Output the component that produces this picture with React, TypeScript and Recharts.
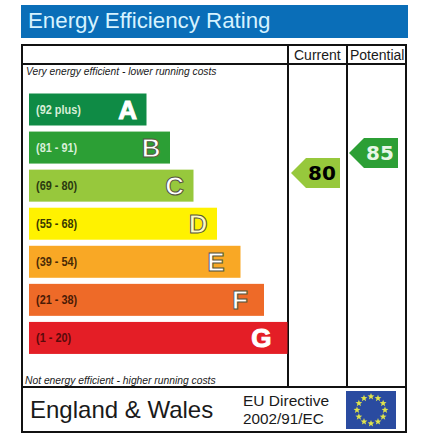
import { Bar, ComposedChart, LabelList, Scatter, XAxis, YAxis } from 'recharts'

const BANDS = ['A', 'B', 'C', 'D', 'E', 'F', 'G']
const RANGES = ['(92 plus)', '(81 - 91)', '(69 - 80)', '(55 - 68)', '(39 - 54)', '(21 - 38)', '(1 - 20)']
const LENGTHS = [5, 6, 7, 8, 9, 10, 11]
const COLORS = ['#0f8b45', '#2c9f35', '#97c83c', '#fff200', '#f9a825', '#ee6a28', '#e41e26']
const RANGE_COLORS = ['#d8efd8', '#d8efd8', '#2a3a10', '#3a3a00', '#4a2a05', '#4a1a05', '#5a0a0a']

const COLUMNS = ['Current', 'Potential']
const SCORES = [80, 85]
const SCORE_BANDS = [2, 1]
const SCORE_TEXT = ['#000000', '#e6f6e6']

const FONT = '"Liberation Sans", Arial, sans-serif'

const bars = BANDS.map((band, i) => ({ band, range: RANGES[i], length: LENGTHS[i], color: COLORS[i] }))
const tags = COLUMNS.map((column, i) => ({ column, score: SCORES[i], color: COLORS[SCORE_BANDS[i]], text: SCORE_TEXT[i] }))

const BandBar = (props: any) => <rect x={props.x} y={props.y} width={props.width} height={props.height} fill={props.payload.color} />

// no narrow font installed, so squeeze the bold one
const RangeLabel = (props: any) => (
  <text transform={`translate(${props.x + 7} ${props.y + props.height / 2 + 4}) scale(0.84 1)`} fontFamily={FONT}
    fontSize={13} fontWeight={700} fill={RANGE_COLORS[props.index]}>
    {props.value}
  </text>
)

const LetterLabel = (props: any) => (
  <text x={props.x + props.width - (props.index > 3 ? 16 : 9.5)} y={props.y + props.height / 2 + 9} textAnchor="end"
    fontFamily={FONT} fontSize={26} fontWeight={700} fill={props.index === 3 ? '#fffbc0' : '#ffffff'}
    stroke={props.index === 0 || props.index === 6 ? '#ffffff' : '#55553f'} strokeWidth={1}>
    {props.value}
  </text>
)

const ScoreTag = (props: any) => {
  const { cx, cy, payload } = props
  return (
    <g>
      <path d={`M${cx} ${cy}L${cx + 15} ${cy - 15}H${cx + 49}V${cy + 15}H${cx + 15}Z`} fill={payload.color} />
      <text x={cx + 31} y={cy + 7.5} textAnchor="middle" fontFamily='"DejaVu Sans", sans-serif' fontSize={20} fontWeight={700} fill={payload.text}>
        {payload.score}
      </text>
    </g>
  )
}

const line = (left: number, top: number, width: number, height: number) => (
  <div style={{ position: 'absolute', left, top, width, height, background: '#111' }} />
)

const label = (text: string, left: number, top: number, fontSize: number, extra: object = {}) => (
  <div style={{ position: 'absolute', left, top, fontSize, lineHeight: 1, whiteSpace: 'nowrap', fontFamily: FONT, color: '#1a1a1a', ...extra }}>{text}</div>
)

const starPoints = (cx: number, cy: number, r: number) =>
  Array.from({ length: 10 }).map((_, i) => {
    const a = (i * Math.PI) / 5
    const d = i % 2 ? r * 0.42 : r
    return `${cx + d * Math.sin(a)},${cy - d * Math.cos(a)}`
  }).join(' ')

const EuFlag = () => (
  <svg style={{ position: 'absolute', left: 346, top: 391 }} width={50} height={38}>
    <rect width={50} height={38} fill="#2a4ba0" />
    {Array.from({ length: 12 }).map((_, i) => {
      const a = (i * Math.PI) / 6
      return <polygon key={i} points={starPoints(25 + 14 * Math.sin(a), 19 - 13.5 * Math.cos(a), 3.6)} fill="#dfe34c" />
    })}
  </svg>
)

export default function App() {
  return (
    <div style={{ position: 'absolute', left: 0, top: 0, width: 439, height: 437, background: '#fff', overflow: 'hidden' }}>
      <div style={{ position: 'absolute', left: 21, top: 5, width: 387, height: 33, background: '#0a6eb8' }} />
      {label('Energy Efficiency Rating', 28, 10, 22.3, { color: '#d6f3ff' })}

      {line(21, 44, 386, 2)}
      {line(21, 63, 386, 2)}
      {line(21, 386, 386, 2)}
      {line(21, 431, 386, 2)}
      {line(21, 44, 2, 389)}
      {line(405, 44, 2, 389)}
      {line(287, 44, 2, 343)}
      {line(346, 44, 2, 343)}

      {label('Current', 294, 48, 14)}
      {label('Potential', 350, 48, 14)}
      {label('Very energy efficient - lower running costs', 26, 67, 10.25, { fontStyle: 'italic' })}
      {label('Not energy efficient - higher running costs', 25, 376, 10.3, { fontStyle: 'italic' })}
      {label('England & Wales', 30, 398, 24)}
      {label('EU Directive', 243, 393, 15.5)}
      {label('2002/91/EC', 243, 411, 15.3)}
      <EuFlag />

      <div style={{ position: 'absolute', left: 0, top: 0 }}>
        <ComposedChart width={439} height={437} layout="vertical" data={bars} barSize={32}
          margin={{ top: 90.5, right: 34, bottom: 80, left: 29 }}>
          <XAxis type="number" dataKey="length" domain={[0, 16]} hide />
          <XAxis xAxisId="column" type="category" dataKey="column" scale="point" hide
            padding={{ left: 262, right: 56 }} allowDuplicatedCategory={false} />
          <YAxis type="category" dataKey="band" hide />
          <YAxis yAxisId="score" type="number" dataKey="score" domain={[34, 100.6]} reversed hide />
          <Bar dataKey="length" isAnimationActive={false} shape={BandBar}>
            <LabelList dataKey="range" content={RangeLabel} />
            <LabelList dataKey="band" content={LetterLabel} />
          </Bar>
          <Scatter data={tags} xAxisId="column" yAxisId="score" dataKey="score" isAnimationActive={false} shape={ScoreTag} />
        </ComposedChart>
      </div>
    </div>
  )
}
